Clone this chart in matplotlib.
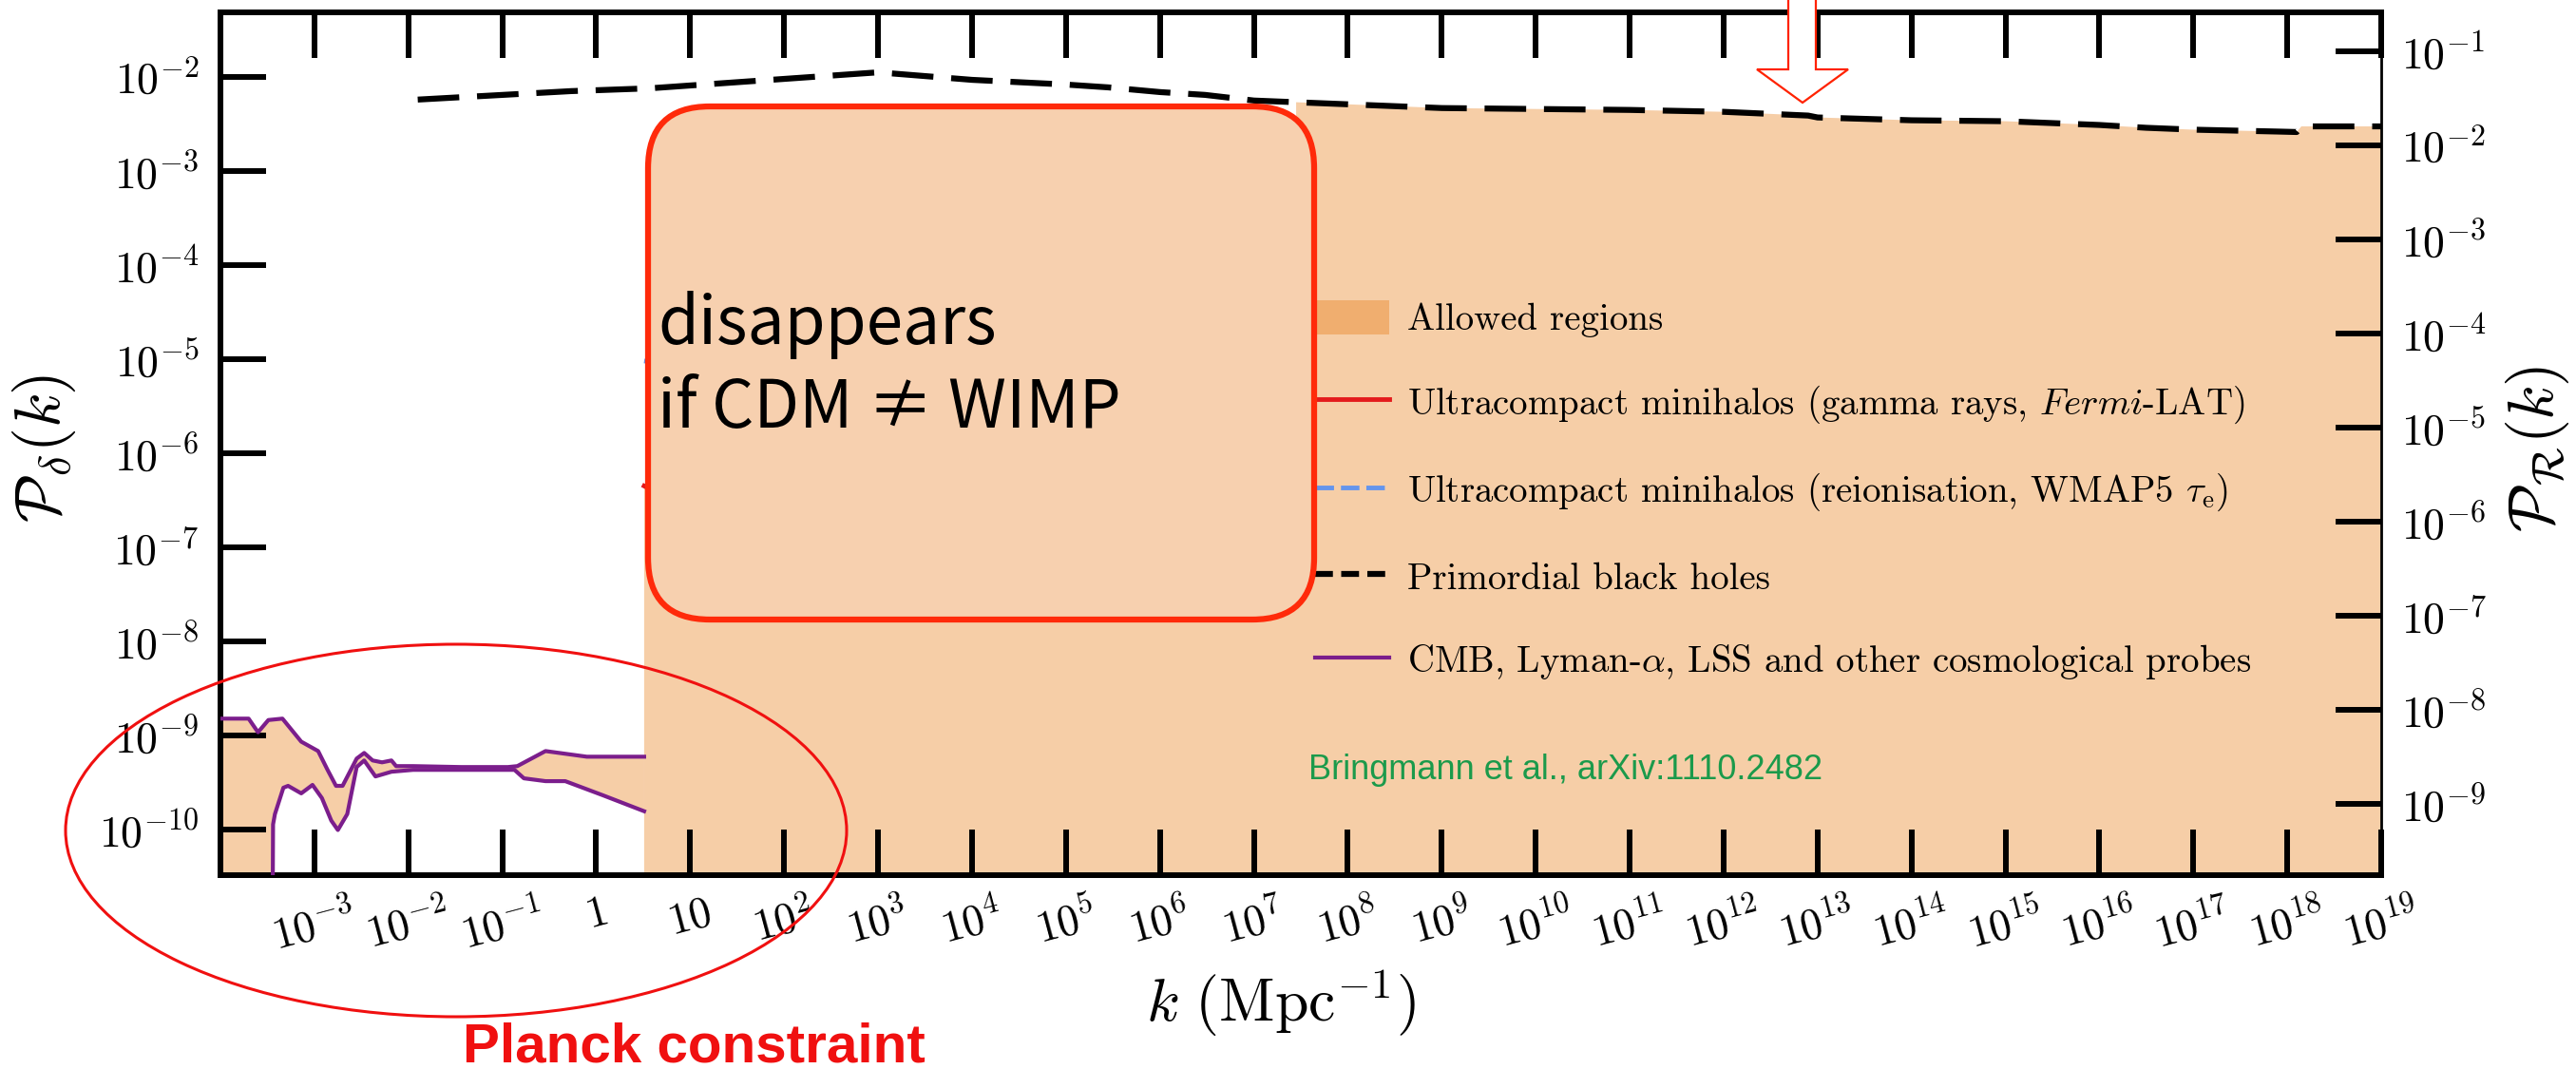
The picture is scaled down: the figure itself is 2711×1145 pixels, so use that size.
import numpy as np
import matplotlib
matplotlib.use("Agg")
import matplotlib.pyplot as plt
from matplotlib.patches import FancyBboxPatch, Ellipse, Polygon, Patch
from matplotlib.lines import Line2D
from matplotlib.ticker import NullLocator, FixedLocator, FixedFormatter
from matplotlib.transforms import IdentityTransform

plt.rcParams["mathtext.fontset"] = "cm"
plt.rcParams["font.family"] = ["cmr10", "DejaVu Serif"]
plt.rcParams["axes.unicode_minus"] = False
plt.rcParams["axes.formatter.use_mathtext"] = True

# ---------------------------------------------------------------------------
# Data: log10 k [Mpc^-1] and log10 P_delta(k)
# ---------------------------------------------------------------------------
# CMB / Lyman-alpha / LSS band (upper and lower edges)
cmb_upper_logk = [-4.0, -3.70, -3.60, -3.49, -3.34, -3.14, -2.96, -2.86, -2.77,
                  -2.70, -2.55, -2.47, -2.38, -2.28, -2.18, -2.13, -1.95, -1.44,
                  -0.94, -0.84, -0.54, -0.10, 0.51]
cmb_upper_logp = [-8.825, -8.825, -8.97, -8.84, -8.825, -9.07, -9.17, -9.37, -9.54,
                  -9.54, -9.25, -9.19, -9.27, -9.29, -9.27, -9.33, -9.33, -9.34,
                  -9.34, -9.33, -9.17, -9.23, -9.23]
cmb_lower_logk = [-3.445, -3.44, -3.42, -3.33, -3.28, -3.14, -3.02, -2.92, -2.82,
                  -2.75, -2.65, -2.55, -2.47, -2.35, -2.18, -1.95, -1.44, -0.87,
                  -0.77, -0.54, -0.33, 0.07, 0.51]
cmb_lower_logp = [-11.0, -9.95, -9.84, -9.56, -9.54, -9.62, -9.53, -9.67, -9.91,
                  -10.01, -9.84, -9.34, -9.27, -9.44, -9.39, -9.37, -9.37, -9.37,
                  -9.46, -9.49, -9.49, -9.64, -9.81]

# Primordial black holes
pbh_logk = [-1.9, -0.27, 0.57, 3.0, 4.0, 5.0, 5.45, 6.0, 6.48, 7.0, 8.0, 9.0, 10.0,
            11.0, 12.0, 12.9, 13.0, 14.0, 15.0, 16.0, 16.5, 17.0, 17.9, 18.1,
            18.15, 19.0]
pbh_logp = [-2.24, -2.15, -2.12, -1.95, -2.03, -2.08, -2.11, -2.16, -2.19, -2.25,
            -2.29, -2.33, -2.34, -2.35, -2.37, -2.41, -2.43, -2.46, -2.47, -2.51,
            -2.54, -2.56, -2.58, -2.585, -2.525, -2.525]

# Ultracompact minihalos, gamma rays (Fermi-LAT)
ucmh_gamma_logk = [0.51, 1.0, 2.0, 3.0, 4.0, 5.0, 6.0, 7.0, 7.45]
ucmh_gamma_logp = [-6.35, -6.6, -6.9, -7.0, -7.0, -6.95, -6.85, -6.7, -6.6]

# Ultracompact minihalos, reionisation (WMAP5 tau_e)
ucmh_reion_logk = [0.51, 1.0, 2.0, 3.0, 4.0, 5.0, 6.0]
ucmh_reion_logp = [-5.02, -5.1, -5.3, -5.4, -5.45, -5.45, -5.4]

# floor used to close the shaded regions below the plotting window
floor_logp = -11.0

# axis ranges
xlim_log = (-4.0, 19.0)
ylim_log = (-10.49, -1.312)
r_offset_log = 0.727   # log10(P_R / P_delta)

x_tick_logs = list(range(-4, 20))
y_left_tick_logs = list(range(-10, -1))
y_right_tick_logs = list(range(-9, 0))

ALLOWED_COLOR = "#E8770D"
ALLOWED_ALPHA = 0.36
CMB_COLOR = "#7B1E8C"
GAMMA_COLOR = "#E31A1C"
REION_COLOR = "#6495ED"

legend_labels = [
    "Allowed regions",
    r"Ultracompact minihalos (gamma rays, $\mathit{Fermi}$-LAT)",
    r"Ultracompact minihalos (reionisation, WMAP5 $\tau_\mathrm{e}$)",
    "Primordial black holes",
    r"CMB, Lyman-$\alpha$, LSS and other cosmological probes",
]

# ---------------------------------------------------------------------------
W, H, DPI = 2711, 1145, 100
fig = plt.figure(figsize=(W / DPI, H / DPI), dpi=DPI)
ax_l, ax_r, ax_t, ax_b = 232, 2506, 13, 921
ax = fig.add_axes([ax_l / W, 1 - ax_b / H, (ax_r - ax_l) / W, (ax_b - ax_t) / H])
ax.set_xscale("log")
ax.set_yscale("log")

def p10(a):
    return 10.0 ** np.asarray(a, dtype=float)

# Allowed region inside the CMB band
band_k = np.concatenate([cmb_upper_logk, cmb_lower_logk[::-1], [xlim_log[0]]])
band_p = np.concatenate([cmb_upper_logp, cmb_lower_logp[::-1], [floor_logp]])
ax.fill(p10(band_k), p10(band_p), color=ALLOWED_COLOR, alpha=ALLOWED_ALPHA,
        lw=0, zorder=1)

# Allowed region at small scales: below UCMH gamma-ray limit, then below PBH
k_end = ucmh_gamma_logk[-1]
pbh_at_end = np.interp(k_end, pbh_logk, pbh_logp)
pbh_k = np.asarray(pbh_logk)
pbh_p = np.asarray(pbh_logp)
sel = pbh_k > k_end
small_k = np.concatenate([[ucmh_gamma_logk[0]], ucmh_gamma_logk, [k_end],
                          pbh_k[sel], [pbh_k[-1]]])
small_p = np.concatenate([[floor_logp], ucmh_gamma_logp, [pbh_at_end],
                          pbh_p[sel], [floor_logp]])
ax.fill(p10(small_k), p10(small_p), color=ALLOWED_COLOR, alpha=ALLOWED_ALPHA,
        lw=0, zorder=1)

# constraint curves
ax.plot(p10(cmb_upper_logk), p10(cmb_upper_logp), color=CMB_COLOR, lw=3.0, zorder=3)
ax.plot(p10(cmb_lower_logk), p10(cmb_lower_logp), color=CMB_COLOR, lw=3.0, zorder=3)
ax.plot(p10(ucmh_gamma_logk), p10(ucmh_gamma_logp), color=GAMMA_COLOR, lw=3.5, zorder=3)
ax.plot(p10(ucmh_reion_logk), p10(ucmh_reion_logp), color=REION_COLOR, lw=3.5,
        dashes=(4, 1.5), zorder=3)
ax.plot(p10(pbh_logk), p10(pbh_logp), color="black", lw=4.5, dashes=(7, 3),
        zorder=4)

ax.set_xlim(p10(xlim_log[0]), p10(xlim_log[1]))
ax.set_ylim(p10(ylim_log[0]), p10(ylim_log[1]))

def dec_label(e):
    if e == 0:
        return r"$1$"
    if e == 1:
        return r"$10$"
    return r"$10^{%d}$" % e

ax.xaxis.set_major_locator(FixedLocator(p10(x_tick_logs)))
ax.xaxis.set_major_formatter(FixedFormatter(
    ["" if e == xlim_log[0] else dec_label(e) for e in x_tick_logs]))
ax.yaxis.set_major_locator(FixedLocator(p10(y_left_tick_logs)))
ax.yaxis.set_major_formatter(FixedFormatter([dec_label(e) for e in y_left_tick_logs]))
ax.xaxis.set_minor_locator(NullLocator())
ax.yaxis.set_minor_locator(NullLocator())

TICK_LEN, TICK_W, FS_TICK = 34.5, 4.3, 33
ax.tick_params(axis="x", which="major", direction="in", length=TICK_LEN,
               width=TICK_W, top=True, bottom=True, labelsize=FS_TICK, pad=14)
ax.tick_params(axis="y", which="major", direction="in", length=TICK_LEN,
               width=TICK_W, left=True, right=False, labelsize=FS_TICK, pad=16)
for lab in ax.get_xticklabels():
    lab.set_rotation(15)

for side in ("left", "top", "bottom"):
    ax.spines[side].set_linewidth(4.3)
ax.spines["right"].set_visible(False)

# right-hand axis in terms of the curvature perturbation
ax2 = ax.twinx()
ax2.set_yscale("log")
ax2.set_ylim(p10(ylim_log[0] + r_offset_log), p10(ylim_log[1] + r_offset_log))
ax2.yaxis.set_major_locator(FixedLocator(p10(y_right_tick_logs)))
ax2.yaxis.set_major_formatter(FixedFormatter([dec_label(e) for e in y_right_tick_logs]))
ax2.yaxis.set_minor_locator(NullLocator())
ax2.tick_params(axis="y", which="major", direction="in", length=TICK_LEN,
                width=TICK_W, labelsize=FS_TICK, pad=15)
for side in ("left", "top", "bottom"):
    ax2.spines[side].set_visible(False)
ax2.spines["right"].set_linewidth(2.0)

# axis labels
ax.set_xlabel(r"$k\ (\mathrm{Mpc}^{-1})$", fontsize=46)
ax.xaxis.set_label_coords((1348 - ax_l) / (ax_r - ax_l), (ax_b - 1056) / (ax_b - ax_t))
ax.xaxis.label.set_va("center")
ax.set_ylabel(r"$\mathcal{P}_\delta(k)$", fontsize=48)
ax.yaxis.set_label_coords((47 - ax_l) / (ax_r - ax_l), (ax_b - 472) / (ax_b - ax_t))
ax.yaxis.label.set_va("center")
ax2.set_ylabel(r"$\mathcal{P}_\mathcal{R}(k)$", fontsize=48, rotation=90)
ax2.yaxis.set_label_coords((2670 - ax_l) / (ax_r - ax_l), (ax_b - 472) / (ax_b - ax_t))
ax2.yaxis.label.set_va("center")

# legend
FS_LEG = 28
handles = [
    Patch(facecolor=ALLOWED_COLOR, alpha=ALLOWED_ALPHA, lw=0),
    Line2D([], [], color=GAMMA_COLOR, lw=3.5),
    Line2D([], [], color=REION_COLOR, lw=3.5, dashes=(4, 1.5)),
    Line2D([], [], color="black", lw=4.5, dashes=(3, 1.4)),
    Line2D([], [], color=CMB_COLOR, lw=3.0),
]
leg = ax2.legend(handles, legend_labels, loc="upper left",
                 bbox_to_anchor=(1384 / W, 1 - 316 / H), bbox_transform=fig.transFigure,
                 frameon=False, fontsize=FS_LEG, handlelength=2.0, handleheight=1.05,
                 handletextpad=0.5, labelspacing=1.24, borderpad=0, borderaxespad=0)

# source note
fig.text(1377 / W, 1 - 810 / H, "Bringmann et al., arXiv:1110.2482",
         color="#1B9A4B", fontsize=26, family="Liberation Sans", ha="left", va="center")

# callout box over the UCMH limits
box = FancyBboxPatch((682, H - 652), 701, 540, boxstyle="round,pad=0,rounding_size=65",
                     transform=IdentityTransform(), facecolor="#F7D0AF",
                     edgecolor="#FF2A0A", lw=4.5, zorder=5)
fig.add_artist(box)
fig.text(692 / W, 1 - 386 / H, "disappears\nif CDM \u2260 WIMP", fontsize=50,
         family=["Noto Sans CJK JP", "DejaVu Sans"], ha="left", va="center",
         linespacing=1.28, zorder=6)

# ellipse around the large-scale constraints
ell = Ellipse((480, H - 874), 822, 392, transform=IdentityTransform(),
              fill=False, edgecolor="#F01010", lw=2.2, zorder=5)
fig.add_artist(ell)
fig.text(730 / W, 1 - 1102 / H, "Planck constraint", color="#F01010", fontsize=42,
         family="Liberation Sans", weight="bold", ha="center", va="center")

# arrow pointing at the PBH limit
arrow = Polygon([(1882, H + 5), (1911, H + 5), (1911, H - 73), (1945, H - 73),
                 (1897, H - 108), (1849, H - 73), (1882, H - 73)],
                closed=True, transform=IdentityTransform(), facecolor="white",
                edgecolor="#FF2200", lw=1.6, zorder=6)
fig.add_artist(arrow)

fig.savefig("out.png", dpi=DPI)
